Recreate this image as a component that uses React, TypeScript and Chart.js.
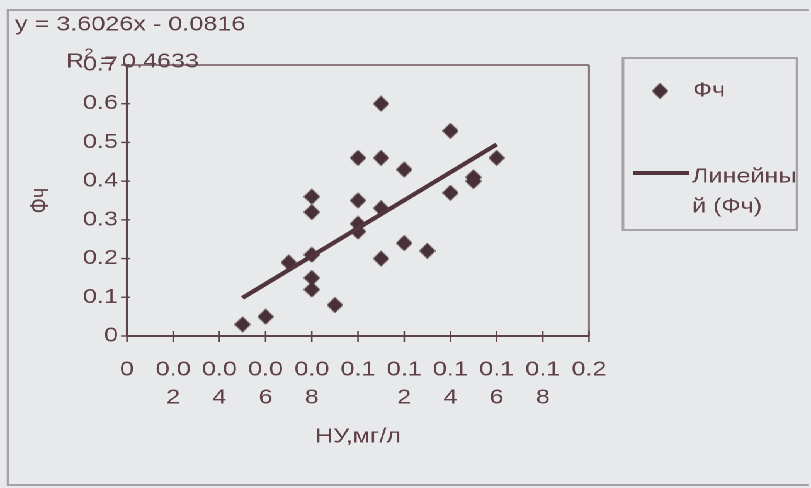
import React, { useEffect, useRef } from 'react';
import { Chart, registerables } from 'chart.js';

Chart.register(...registerables);

// ---- data ----
const X_VALUES = [0.05, 0.06, 0.07, 0.08, 0.08, 0.08, 0.08, 0.08, 0.09, 0.10, 0.10, 0.10, 0.10, 0.11, 0.11, 0.11, 0.11, 0.12, 0.12, 0.13, 0.14, 0.14, 0.15, 0.15, 0.16];
const Y_VALUES = [0.03, 0.05, 0.19, 0.36, 0.32, 0.21, 0.15, 0.12, 0.08, 0.46, 0.35, 0.29, 0.27, 0.60, 0.46, 0.33, 0.20, 0.43, 0.24, 0.22, 0.53, 0.37, 0.41, 0.40, 0.46];
const TREND_SLOPE = 3.6026;
const TREND_INTERCEPT = -0.0816;
const TREND_R2 = '0.4633';
const X_TICK_LABELS: (string | string[])[] = ['0', ['0.0', '2'], ['0.0', '4'], ['0.0', '6'], ['0.0', '8'], '0.1', ['0.1', '2'], ['0.1', '4'], ['0.1', '6'], ['0.1', '8'], '0.2'];
const Y_TICK_LABELS = ['0', '0.1', '0.2', '0.3', '0.4', '0.5', '0.6', '0.7'];
const SERIES_NAME = 'Фч';
const TREND_NAME_LINES = ['Линейны', 'й (Фч)'];
const X_TITLE = 'НУ,мг/л';
const Y_TITLE = 'Фч';

// ---- geometry / style ----
const H = 488;
const W = 644;
const S = 811 / W; // horizontal stretch of the scanned picture
const rx = (v: number) => v / S;
const FONT = '"Liberation Sans", Arial, sans-serif';
const FS = 20;
const BG = '#e8e9eb';
const TEXT = '#5f414b';
const MARKER = '#473036';
const LINE = '#52353c';
const AXIS = '#5e434b';
const FRAME = '#8f7880';
const OUTER = '#a4a3a8';

function makeDiamond(): HTMLCanvasElement {
  const c = document.createElement('canvas');
  const w = 13, h = 16;
  c.width = w; c.height = h;
  const g = c.getContext('2d')!;
  g.fillStyle = MARKER;
  g.beginPath();
  g.moveTo(w / 2, 0); g.lineTo(w, h / 2); g.lineTo(w / 2, h); g.lineTo(0, h / 2);
  g.closePath(); g.fill();
  return c;
}

export default function App() {
  const ref = useRef<HTMLCanvasElement>(null);
  useEffect(() => {
    document.body.style.margin = '0';
    document.body.style.overflow = 'hidden';
    document.body.style.background = BG;
    const diamond = makeDiamond();
    const xmin = Math.min(...X_VALUES);
    const xmax = Math.max(...X_VALUES);

    const decor = {
      id: 'decor',
      beforeDraw(chart: any) {
        const ctx = chart.ctx;
        ctx.save();
        ctx.fillStyle = BG;
        ctx.fillRect(0, 0, chart.width, chart.height);
        ctx.strokeStyle = OUTER;
        ctx.lineWidth = 2;
        ctx.beginPath();
        ctx.moveTo(rx(809), 10);
        ctx.lineTo(rx(8), 10);
        ctx.lineTo(rx(8), 485);
        ctx.lineTo(rx(809), 485);
        ctx.stroke();
        ctx.restore();
      },
      beforeDatasetsDraw(chart: any) {
        const { ctx, chartArea: a, scales } = chart;
        ctx.save();
        ctx.strokeStyle = FRAME;
        ctx.lineWidth = 2;
        ctx.beginPath();
        ctx.moveTo(a.left, a.top);
        ctx.lineTo(a.right, a.top);
        ctx.stroke();
        ctx.lineWidth = rx(2);
        ctx.beginPath();
        ctx.moveTo(a.right, a.top);
        ctx.lineTo(a.right, a.bottom);
        ctx.stroke();
        ctx.strokeStyle = AXIS;
        ctx.lineWidth = rx(2.2);
        ctx.beginPath();
        ctx.moveTo(a.left, a.top);
        ctx.lineTo(a.left, a.bottom);
        ctx.stroke();
        ctx.lineWidth = 2;
        ctx.beginPath();
        ctx.moveTo(a.left, a.bottom);
        ctx.lineTo(a.right, a.bottom);
        ctx.stroke();
        ctx.lineWidth = 1.4;
        for (const t of scales.y.ticks) {
          const p = scales.y.getPixelForValue(t.value);
          ctx.beginPath();
          ctx.moveTo(a.left - rx(6), p);
          ctx.lineTo(a.left + rx(3), p);
          ctx.stroke();
        }
        ctx.lineWidth = rx(1.6);
        for (const t of scales.x.ticks) {
          const p = scales.x.getPixelForValue(t.value);
          ctx.beginPath();
          ctx.moveTo(p, a.bottom - 5);
          ctx.lineTo(p, a.bottom + 6);
          ctx.stroke();
        }
        ctx.restore();
      },
      afterDraw(chart: any) {
        const ctx = chart.ctx;
        ctx.save();
        ctx.fillStyle = TEXT;
        ctx.textBaseline = 'middle';
        ctx.textAlign = 'left';
        ctx.font = `${FS}px ${FONT}`;
        const eq = `y = ${TREND_SLOPE}x ${TREND_INTERCEPT < 0 ? '-' : '+'} ${Math.abs(TREND_INTERCEPT)}`;
        ctx.fillText(eq, rx(15), 25);
        let x = rx(66);
        ctx.fillText('R', x, 62);
        x += ctx.measureText('R').width;
        ctx.font = `13px ${FONT}`;
        ctx.fillText('2', x, 54);
        x += ctx.measureText('2').width;
        ctx.font = `${FS}px ${FONT}`;
        ctx.fillText(` = ${TREND_R2}`, x, 62);

        ctx.strokeStyle = OUTER;
        ctx.lineWidth = 2;
        ctx.strokeRect(rx(623), 58, rx(797) - rx(623), 172);
        ctx.drawImage(diamond, rx(660) - diamond.width / 2, 91 - diamond.height / 2);
        ctx.fillText(SERIES_NAME, rx(693), 91);
        ctx.strokeStyle = LINE;
        ctx.lineWidth = 4;
        ctx.beginPath();
        ctx.moveTo(rx(633), 173);
        ctx.lineTo(rx(689), 173);
        ctx.stroke();
        ctx.fillText(TREND_NAME_LINES[0], rx(692), 177);
        ctx.fillText(TREND_NAME_LINES[1], rx(692), 207);
        ctx.restore();
      },
    };

    const tickFont = { family: FONT, size: FS, lineHeight: 1.4 };
    const chart = new Chart(ref.current!, {
      type: 'scatter',
      data: {
        datasets: [
          {
            type: 'scatter',
            label: SERIES_NAME,
            data: X_VALUES.map((x, i) => ({ x, y: Y_VALUES[i] })),
            pointStyle: diamond,
            pointRadius: 7,
            backgroundColor: MARKER,
            borderWidth: 0,
            order: 1,
          } as any,
          {
            type: 'line',
            label: 'Линейный (Фч)',
            data: [
              { x: xmin, y: TREND_SLOPE * xmin + TREND_INTERCEPT },
              { x: xmax, y: TREND_SLOPE * xmax + TREND_INTERCEPT },
            ],
            borderColor: LINE,
            borderWidth: 4,
            pointRadius: 0,
            fill: false,
            showLine: true,
            order: 0,
          } as any,
        ],
      },
      options: {
        responsive: false,
        animation: false,
        devicePixelRatio: 2,
        layout: { padding: { left: 0, top: 65, right: W - rx(589), bottom: 0 } },
        plugins: { legend: { display: false }, tooltip: { enabled: false } },
        scales: {
          x: {
            type: 'linear',
            position: 'bottom',
            min: 0,
            max: 0.2,
            afterFit: (s: any) => { s.height = H - 336; },
            ticks: {
              stepSize: 0.02,
              autoSkip: false,
              maxRotation: 0,
              minRotation: 0,
              padding: 20,
              color: TEXT,
              font: tickFont,
              callback: (_v: any, i: number) => X_TICK_LABELS[i],
            },
            grid: { display: false, drawTicks: false },
            border: { display: false },
            title: {
              display: true,
              text: X_TITLE,
              color: TEXT,
              font: { family: FONT, size: FS },
              padding: { top: 0, bottom: 39 },
            },
          },
          y: {
            type: 'linear',
            min: 0,
            max: 0.7,
            afterFit: (s: any) => { s.width = rx(127); },
            ticks: {
              stepSize: 0.1,
              padding: rx(127) - rx(118),
              color: TEXT,
              font: tickFont,
              callback: (_v: any, i: number) => Y_TICK_LABELS[i],
            },
            grid: { display: false, drawTicks: false },
            border: { display: false },
            title: {
              display: true,
              text: Y_TITLE,
              color: TEXT,
              font: { family: FONT, size: FS },
              padding: { top: rx(41) - 12, bottom: 0 },
            },
          },
        },
      } as any,
      plugins: [decor],
    });
    return () => chart.destroy();
  }, []);

  return (
    <div
      style={{
        position: 'absolute',
        left: 0,
        top: 0,
        width: W,
        height: H,
        transform: `scaleX(${S})`,
        transformOrigin: '0 0',
        background: BG,
      }}
    >
      <canvas ref={ref} width={W} height={H} style={{ display: 'block', width: W, height: H }} />
    </div>
  );
}
